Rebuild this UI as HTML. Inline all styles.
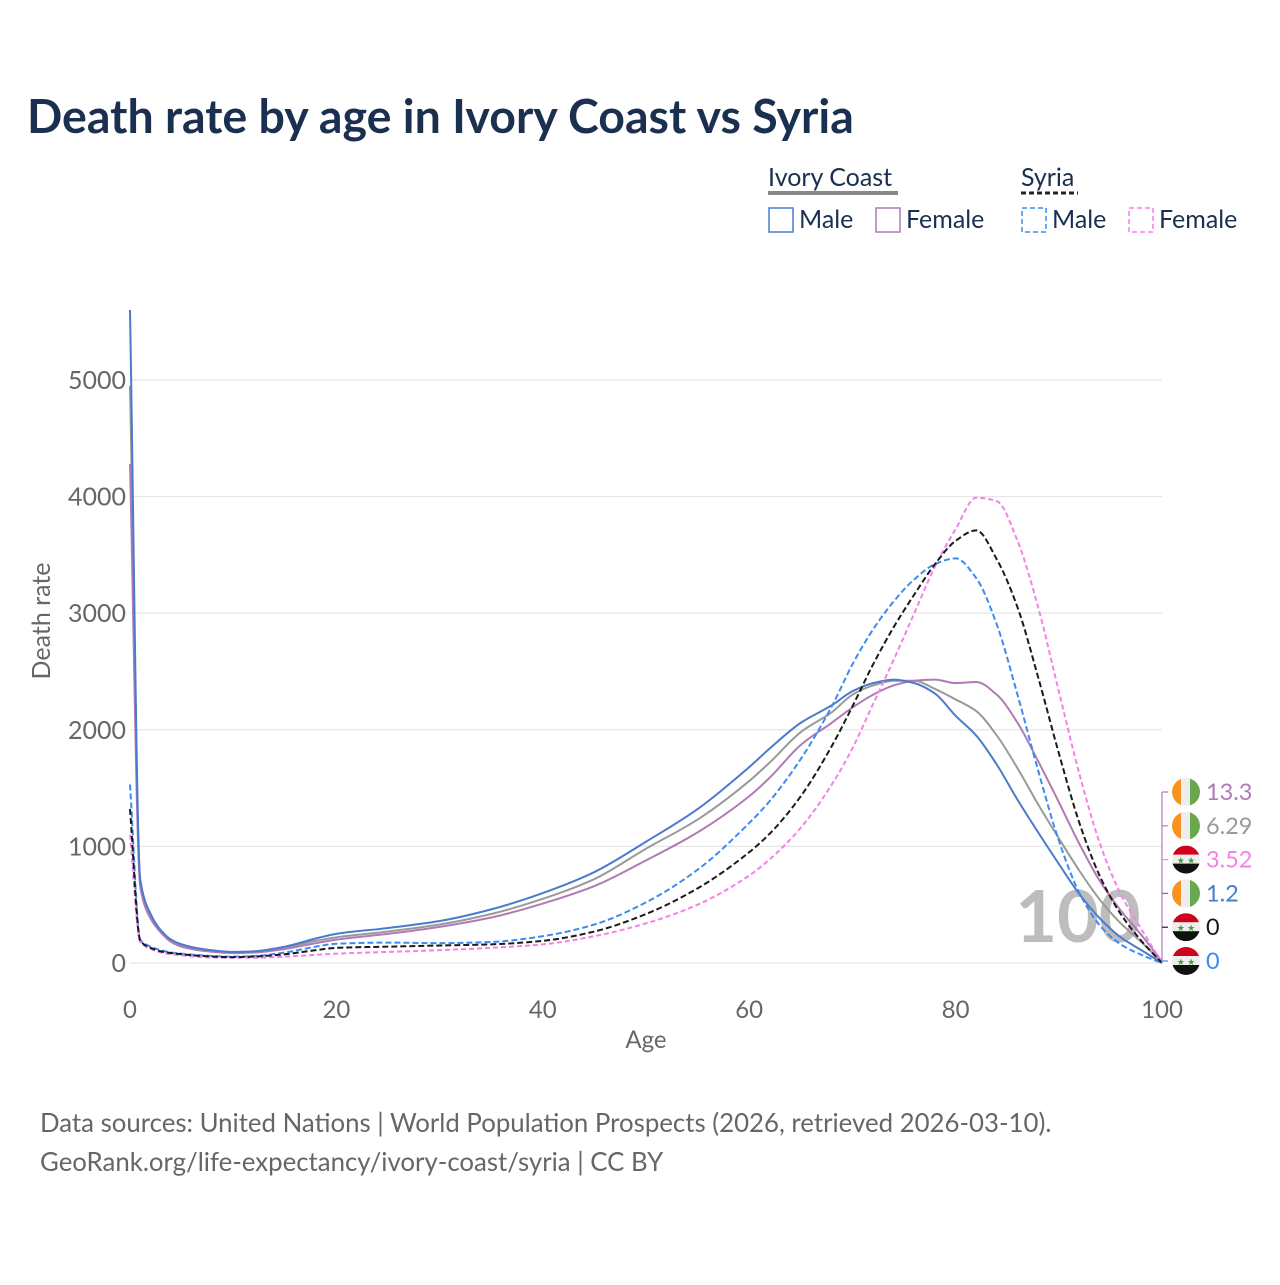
<!DOCTYPE html>
<html><head><meta charset="utf-8"><style>
body{margin:0;background:#fff;font-family:"Liberation Sans",sans-serif;}
svg text{font-family:"Lato","Liberation Sans",sans-serif;}
</style></head><body>
<svg id="c" width="1280" height="1280" xmlns="http://www.w3.org/2000/svg">
<rect width="1280" height="1280" fill="#fff"/>
<text x="27" y="133" font-size="46.5" font-weight="bold" fill="#1b3050">Death rate by age in Ivory Coast vs Syria</text>
<g font-size="25" fill="#1b3050">
<text x="768" y="186" fill="#1b3050">Ivory Coast</text>
<line x1="768" y1="193" x2="898" y2="193" stroke="#888" stroke-width="4"/>
<text x="1021" y="186" fill="#1b3050">Syria</text>
<line x1="1021" y1="193" x2="1078" y2="193" stroke="#222" stroke-width="3" stroke-dasharray="5,3"/>
<g><rect x="769" y="208" width="24" height="24" fill="none" stroke="#4a7bcc" stroke-width="1.5"/><text x="799" y="228">Male</text></g>
<g><rect x="876" y="208" width="24" height="24" fill="none" stroke="#b07ab4" stroke-width="1.5"/><text x="906" y="228">Female</text></g>
<g><rect x="1022" y="208" width="24" height="24" fill="none" stroke="#3d8bf0" stroke-width="1.5" stroke-dasharray="5,3"/><text x="1052" y="228">Male</text></g>
<g><rect x="1129" y="208" width="24" height="24" fill="none" stroke="#f77fe8" stroke-width="1.5" stroke-dasharray="5,3"/><text x="1159" y="228">Female</text></g>
</g>
<g id="grid"></g>
<text x="1078" y="942" font-size="72" font-weight="bold" fill="#bdbdbd" text-anchor="middle">100</text>
<g id="series"></g>
<g id="ends"></g>
<text x="646" y="1048" font-size="24" fill="#666" text-anchor="middle">Age</text>
<text transform="translate(50,621) rotate(-90)" font-size="25" fill="#666" text-anchor="middle">Death rate</text>
<text x="40" y="1132" font-size="25.8" fill="#666">Data sources: United Nations | World Population Prospects (2026, retrieved 2026-03-10).</text>
<text x="40" y="1171" font-size="25.8" fill="#666">GeoRank.org/life-expectancy/ivory-coast/syria | CC BY</text>
</svg>
<script>
const ages=[0,1,2,3,4,5,7,10,12,15,18,20,25,30,35,40,45,50,55,60,62,65,68,70,72,74,76,78,80,82,84,86,88,90,92,94,96,98,100];
const icMale=[5600,710,420,280,200,160,120,95,100,140,210,250,300,360,460,600,780,1040,1320,1680,1840,2060,2210,2330,2400,2430,2400,2310,2120,1950,1700,1400,1120,850,590,380,220,110,1.2];
const icTotal=[4950,680,400,270,190,150,110,90,95,130,190,220,270,330,420,550,720,980,1230,1560,1720,1980,2150,2300,2380,2420,2420,2350,2260,2160,1950,1670,1360,1070,790,540,340,180,6.29];
const icFemale=[4280,650,380,260,180,140,105,85,90,120,170,200,250,310,390,510,660,880,1120,1430,1590,1870,2060,2190,2300,2380,2420,2430,2400,2410,2300,2060,1730,1380,1020,700,450,240,13.3];
const syMale=[1530,200,140,110,90,80,65,55,60,90,140,165,175,170,180,230,330,520,800,1200,1390,1750,2200,2560,2860,3100,3290,3420,3470,3300,2900,2300,1650,1050,600,320,160,70,0];
const syTotal=[1320,190,130,100,85,75,60,50,55,75,110,130,140,150,160,190,270,420,640,950,1110,1430,1860,2200,2560,2880,3160,3420,3620,3710,3460,3050,2450,1800,1200,740,420,190,0];
const syFemale=[1100,180,120,90,75,65,50,45,45,55,70,80,95,110,130,160,230,340,500,750,890,1160,1530,1840,2220,2600,3000,3400,3720,3990,3960,3620,3050,2330,1620,1020,590,290,3.52];
const xTicks=[0,20,40,60,80,100];
const yTicks=[0,1000,2000,3000,4000,5000];
const endLabels=["13.3","6.29","3.52","1.2","0","0"];
const NS="http://www.w3.org/2000/svg";
const X=a=>130+a*10.32, Y=v=>963-v*0.11662;
function mk(t,at,p){const e=document.createElementNS(NS,t);for(const k in at)e.setAttribute(k,at[k]);p.appendChild(e);return e;}
const g=document.getElementById('grid');
yTicks.forEach(v=>{
 const l=mk('line',{x1:130,x2:1162,y1:Y(v),y2:Y(v),stroke:'#e6e6e6','stroke-width':1.2},g);
 
 
 const t=mk('text',{x:126,y:Y(v)+9,'font-size':25,fill:'#666','text-anchor':'end'},g);t.textContent=v;
 
 
});
xTicks.forEach(a=>{
 const t=mk('text',{x:X(a),y:1018,'font-size':24,fill:'#666','text-anchor':'middle'},g);t.textContent=a;
 
 
});
function path(vals){
 const xs=ages.map(X), ys=vals.map(Y), n=xs.length;
 const d=[],m=new Array(n);
 for(let i=0;i<n-1;i++)d.push((ys[i+1]-ys[i])/(xs[i+1]-xs[i]));
 m[0]=d[0];m[n-1]=d[n-2];
 for(let i=1;i<n-1;i++){ if(d[i-1]*d[i]<=0)m[i]=0; else {const w1=2*(xs[i+1]-xs[i])+(xs[i]-xs[i-1]),w2=(xs[i+1]-xs[i])+2*(xs[i]-xs[i-1]);m[i]=(w1+w2)/(w1/d[i-1]+w2/d[i]);}}
 let s='M'+xs[0]+','+ys[0];
 for(let i=0;i<n-1;i++){const h=(xs[i+1]-xs[i])/3;
  s+=' C'+(xs[i]+h)+','+(ys[i]+m[i]*h)+' '+(xs[i+1]-h)+','+(ys[i+1]-m[i+1]*h)+' '+xs[i+1]+','+ys[i+1];}
 return s;
}
const s=document.getElementById('series');
[[icTotal,'#9a9a9a',null,'line-ivory-coast-total'],[icFemale,'#b07ab4',null,'line-ivory-coast-female'],[icMale,'#4a7bcc',null,'line-ivory-coast-male'],
 [syMale,'#3d8bf0','6,3','line-syria-male'],[syFemale,'#f77fe8','5,3','line-syria-female'],[syTotal,'#1a1a1a','6,3','line-syria-total']].forEach(([v,c,da,n])=>{
 const at={d:path(v),fill:'none',stroke:c,'stroke-width':2};if(da)at['stroke-dasharray']=da;
 const e=mk('path',at,s);
 
 
});
const en=document.getElementById('ends');
const ecol=['#b07ab4','#9a9a9a','#f77fe8','#4a7bcc','#1a1a1a','#3d8bf0'];
const flags=['ic','ic','sy','ic','sy','sy'];
mk('line',{x1:1162,x2:1162,y1:792,y2:963,stroke:'#b07ab4','stroke-width':1.2},en);
endLabels.forEach((lab,i)=>{
 const y=792+i*33.8;
 mk('line',{x1:1162,x2:1168,y1:y,y2:y,stroke:ecol[i],'stroke-width':1.2},en);
 const f=mk('g',{},en);
 
 
 const cx=1186,r=14;
 mk('clipPath',{id:'cp'+i},f);
 mk('circle',{cx:cx,cy:y,r:r},f.lastChild);
 const gg=mk('g',{'clip-path':'url(#cp'+i+')'},f);
 if(flags[i]=='ic'){mk('rect',{x:cx-r,y:y-r,width:10,height:28,fill:'#f7931e'},gg);mk('rect',{x:cx-r+9,y:y-r,width:10,height:28,fill:'#eee'},gg);mk('rect',{x:cx-r+18,y:y-r,width:10,height:28,fill:'#6aa84f'},gg);}
 else{mk('rect',{x:cx-r,y:y-r,width:28,height:10,fill:'#d0021b'},gg);mk('rect',{x:cx-r,y:y-r+9,width:28,height:10,fill:'#eee'},gg);mk('rect',{x:cx-r,y:y-r+18,width:28,height:10,fill:'#111'},gg);
  const st=mk('text',{x:cx,y:y+4,'font-size':9,fill:'#4a9a3a','text-anchor':'middle'},gg);st.textContent='★ ★';}
 const t=mk('text',{x:1206,y:y+8,'font-size':23.5,fill:ecol[i]},en);t.textContent=lab;
 
 
});
</script>
</body></html>
